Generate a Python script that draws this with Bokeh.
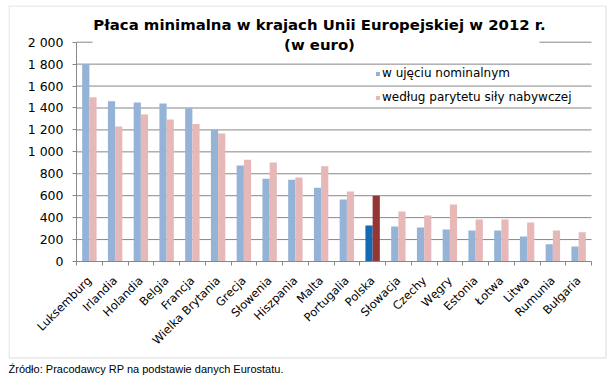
import math
from bokeh.plotting import figure
from bokeh.models import (ColumnDataSource, Range1d, FixedTicker, Label,
                          BoxAnnotation, Legend, LegendItem)
from bokeh.transform import dodge
from bokeh.embed import file_html
from bokeh.resources import INLINE

# ---------------- data ----------------
countries = ["Luksemburg", "Irlandia", "Holandia", "Belgia", "Francja",
             "Wielka Brytania", "Grecja", "Słowenia", "Hiszpania", "Malta",
             "Portugalia", "Polska", "Słowacja", "Czechy", "Węgry",
             "Estonia", "Łotwa", "Litwa", "Rumunia", "Bułgaria"]
nominal = [1800, 1462, 1450, 1441, 1398, 1201, 875, 755, 746, 673,
           565, 328, 319, 310, 292, 283, 283, 228, 158, 137]
ppp = [1498, 1231, 1340, 1295, 1255, 1167, 927, 903, 766, 869,
       638, 599, 456, 419, 520, 383, 383, 356, 283, 267]
y_ticks = [0, 200, 400, 600, 800, 1000, 1200, 1400, 1600, 1800, 2000]
y_tick_labels = ["0", "200", "400", "600", "800", "1 000", "1 200",
                 "1 400", "1 600", "1 800", "2 000"]
series_names = ["w ujęciu nominalnym", "według parytetu siły nabywczej"]
highlight = "Polska"
title_line1 = "Płaca minimalna w krajach Unii Europejskiej w 2012 r."
title_line2 = "(w euro)"
source_note = "Źródło: Pracodawcy RP na podstawie danych Eurostatu."

# ---------------- style / layout ----------------
NOM, PPP = "#95B3D7", "#E6B9B8"
NOM_HL, PPP_HL = "#136BB4", "#943634"
GRAY = "#878787"
FONT = "DejaVu Sans"
BAR_W = 0.28

n = len(countries)
W, H = 600, 372
ORIGIN_X, ORIGIN_Y = 8, 5          # page position of the figure
AXIS_X, PLOT_R = 76, 591           # page x of y-axis and plot right edge
ZERO_Y, TOP_Y = 261, 41.7          # page y of 0 and of the top tick
Y_MAX = y_ticks[-1]
PX_PER_X = (PLOT_R - AXIS_X) / n
PX_PER_Y = (ZERO_Y - TOP_Y) / Y_MAX


def dx(page_x):
    return -0.5 + (page_x - AXIS_X) / PX_PER_X


def dy(page_y):
    return (ZERO_Y - page_y) / PX_PER_Y


src = ColumnDataSource(dict(
    x=list(range(n)),
    nominal=nominal,
    ppp=ppp,
    nom_color=[NOM_HL if c == highlight else NOM for c in countries],
    ppp_color=[PPP_HL if c == highlight else PPP for c in countries],
))

p = figure(width=W, height=H,
           x_range=Range1d(dx(ORIGIN_X), dx(ORIGIN_X + W)),
           y_range=Range1d(dy(ORIGIN_Y + H), dy(ORIGIN_Y)),
           output_backend="svg", toolbar_location=None,
           min_border_left=0, min_border_right=0, min_border_top=0,
           min_border_bottom=0, margin=(ORIGIN_Y, 0, 0, ORIGIN_X))
p.outline_line_color = None
p.background_fill_color = "white"
p.border_fill_color = "white"
p.xgrid.visible = False
p.ygrid.visible = False

# horizontal grid lines across the plot area
grid_vals = y_ticks[1:]
p.segment(x0=[-0.5] * len(grid_vals), x1=[n - 0.5] * len(grid_vals),
          y0=grid_vals, y1=grid_vals, line_color=GRAY, line_width=1)

r1 = p.vbar(x=dodge("x", -BAR_W / 2), top="nominal",
            width=BAR_W, fill_color="nom_color", line_color=None, source=src)
r2 = p.vbar(x=dodge("x", BAR_W / 2), top="ppp",
            width=BAR_W, fill_color="ppp_color", line_color=None, source=src)

# axes fixed inside the canvas
xa = p.xaxis[0]
xa.fixed_location = 0
xa.bounds = (-0.5, n - 0.5)
xa.ticker = FixedTicker(ticks=list(range(n)),
                        minor_ticks=[i - 0.5 for i in range(n + 1)])
xa.major_label_overrides = {i: c for i, c in enumerate(countries)}
xa.major_label_orientation = math.pi / 4
xa.major_tick_out = 0
xa.major_tick_in = 0
xa.minor_tick_out = 4
xa.minor_tick_in = 0
xa.minor_tick_line_color = GRAY
xa.axis_line_color = GRAY
xa.major_label_standoff = 13
xa.major_label_text_font = FONT
xa.major_label_text_font_size = "11.5px"
xa.major_label_text_color = "black"

ya = p.yaxis[0]
ya.fixed_location = -0.5
ya.bounds = (0, Y_MAX)
ya.ticker = FixedTicker(ticks=y_ticks)
ya.major_label_overrides = {t: l for t, l in zip(y_ticks, y_tick_labels)}
ya.major_tick_out = 4
ya.major_tick_in = 0
ya.major_tick_line_color = GRAY
ya.minor_tick_line_color = None
ya.axis_line_color = GRAY
ya.major_label_standoff = 9
ya.major_label_text_font = FONT
ya.major_label_text_font_size = "12.5px"
ya.major_label_text_color = "black"

# white box behind the title (covers the top grid line like the original)
p.add_layout(BoxAnnotation(left=dx(92), right=dx(539), top=dy(14), bottom=dy(54),
                           fill_color="white", fill_alpha=1.0,
                           line_color=None, line_alpha=0))

for txt, py in [(title_line1, 24), (title_line2, 44)]:
    p.add_layout(Label(x=dx(319), y=dy(py), text=txt, text_align="center",
                       text_baseline="middle", text_font=FONT,
                       text_font_style="bold", text_font_size="14.9px",
                       text_color="black"))

legend = Legend(items=[LegendItem(label=series_names[0], renderers=[r1], index=0),
                       LegendItem(label=series_names[1], renderers=[r2], index=0)],
                location=(375 - ORIGIN_X, ORIGIN_Y + H - 107),
                orientation="vertical", glyph_width=5, glyph_height=5,
                label_height=20, spacing=4, padding=0, margin=0,
                label_standoff=2, border_line_color=None,
                background_fill_alpha=0, label_text_font=FONT,
                label_text_font_size="12px", label_text_color="black")
p.add_layout(legend)

# outer chart border
p.add_layout(BoxAnnotation(left=dx(8.5), right=dx(605.5), top=dy(5.5),
                           bottom=dy(357.5), fill_alpha=0,
                           line_color="#8C8C8C", line_width=1))

p.add_layout(Label(x=dx(8), y=dy(368), text=source_note, text_align="left",
                   text_baseline="alphabetic", text_font="Liberation Sans",
                   text_font_size="11px", text_color="black"))

open("out.html", "w").write(file_html(p, INLINE))
